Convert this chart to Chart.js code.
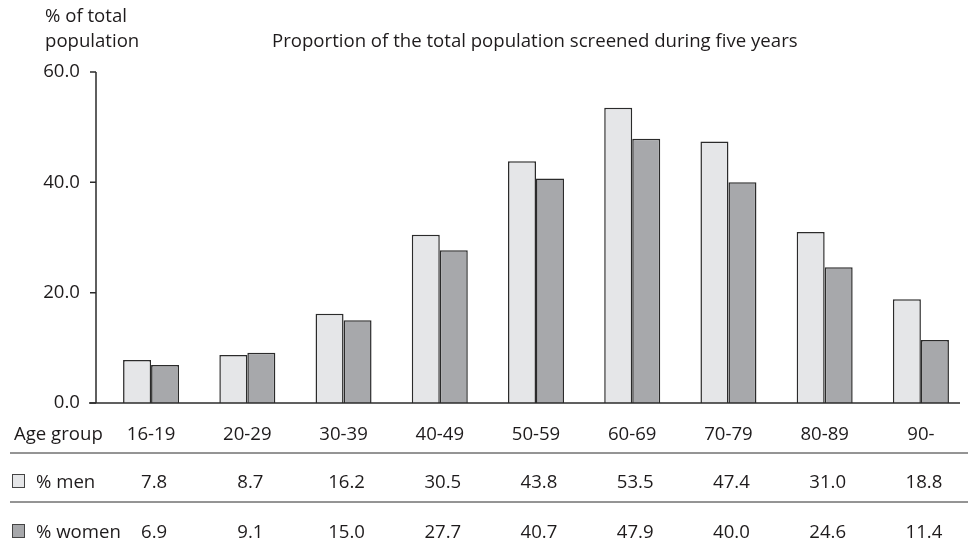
<!DOCTYPE html>
<html>
<head>
<meta charset="utf-8">
<script src="https://cdn.jsdelivr.net/npm/chart.js@4.4.1/dist/chart.umd.min.js"></script>
<style>
  html, body { margin: 0; padding: 0; background: #ffffff; overflow: hidden; }
  #wrap { position: relative; width: 969px; height: 546px; }
</style>
</head>
<body>
<div id="wrap"><canvas id="c" width="969" height="546"></canvas></div>
<script>
const categories = ['16-19', '20-29', '30-39', '40-49', '50-59', '60-69', '70-79', '80-89', '90-'];
const menValues = [7.8, 8.7, 16.2, 30.5, 43.8, 53.5, 47.4, 31.0, 18.8];
const womenValues = [6.9, 9.1, 15.0, 27.7, 40.7, 47.9, 40.0, 24.6, 11.4];
const yTicks = [0, 20, 40, 60];
const seriesNames = ['% men', '% women'];
const rowHeader = 'Age group';
const yTitleLines = ['% of total', 'population'];
const chartTitle = 'Proportion of the total population screened during five years';

const FONT = '"Open Sans", "Noto Sans", sans-serif';
const FS = 18.6;
const TEXT = '#1e1b1c';
const MEN_FILL = '#e5e6e8';
const WOMEN_FILL = '#a7a8ab';
const LINE = '#2b2b2b';

const tablePlugin = {
  id: 'tablePlugin',
  afterDraw(chart) {
    const ctx = chart.ctx;
    const xs = chart.scales.x;
    const ys = chart.scales.y;
    const area = chart.chartArea;
    ctx.save();
    // axes
    const axisX = area.left - 7;
    ctx.strokeStyle = LINE;
    ctx.lineWidth = 1.5;
    ctx.beginPath();
    ctx.moveTo(axisX, ys.getPixelForValue(yTicks[yTicks.length - 1]));
    ctx.lineTo(axisX, ys.getPixelForValue(0));
    yTicks.forEach(t => {
      const py = ys.getPixelForValue(t);
      ctx.moveTo(axisX - 6, py);
      ctx.lineTo(axisX, py);
    });
    ctx.stroke();
    ctx.beginPath();
    const y0 = ys.getPixelForValue(0);
    ctx.moveTo(axisX - 7, y0);
    ctx.lineTo(area.right - 9, y0);
    ctx.stroke();

    // titles
    ctx.fillStyle = TEXT;
    ctx.font = FS + 'px ' + FONT;
    ctx.textBaseline = 'middle';
    ctx.textAlign = 'left';
    ctx.fillText(yTitleLines[0], 45, 17);
    ctx.fillText(yTitleLines[1], 45, 42);
    ctx.fillText(chartTitle, 272, 42);

    // table
    ctx.fillText(rowHeader, 14, 435);
    ctx.lineWidth = 1;
    ctx.beginPath();
    ctx.moveTo(10, 453); ctx.lineTo(968, 453);
    ctx.moveTo(10, 502); ctx.lineTo(968, 502);
    ctx.stroke();

    const rows = [
      { name: seriesNames[0], vals: menValues, fill: MEN_FILL, y: 483 },
      { name: seriesNames[1], vals: womenValues, fill: WOMEN_FILL, y: 533 }
    ];
    rows.forEach(r => {
      ctx.fillStyle = r.fill;
      ctx.strokeStyle = '#444';
      ctx.lineWidth = 1;
      ctx.fillRect(12.5, r.y - 8.5, 12, 13);
      ctx.strokeRect(12.5, r.y - 8.5, 12, 13);
      ctx.fillStyle = TEXT;
      ctx.textAlign = 'left';
      ctx.fillText(r.name, 36, r.y);
      ctx.textAlign = 'center';
      r.vals.forEach((v, i) => {
        ctx.fillText(v.toFixed(1), xs.getPixelForValue(i) + 3, r.y);
      });
    });
    ctx.restore();
  }
};

new Chart(document.getElementById('c'), {
  type: 'bar',
  data: {
    labels: categories,
    datasets: [
      { label: seriesNames[0], data: menValues, backgroundColor: MEN_FILL, borderColor: LINE, borderWidth: 1.5, barPercentage: 1.0, categoryPercentage: 0.582 },
      { label: seriesNames[1], data: womenValues, backgroundColor: WOMEN_FILL, borderColor: LINE, borderWidth: 1.5, barPercentage: 1.0, categoryPercentage: 0.582 }
    ]
  },
  options: {
    responsive: false,
    animation: false,
    events: [],
    layout: { padding: { top: 72, right: 0, bottom: 0, left: 0 } },
    plugins: { legend: { display: false }, title: { display: false }, tooltip: { enabled: false } },
    scales: {
      x: {
        offset: true,
        grid: { display: false, drawTicks: false },
        border: { display: false },
        ticks: { color: TEXT, font: { family: FONT, size: FS }, padding: 21, maxRotation: 0, autoSkip: false },
        afterFit(scale) { scale.height = 143; }
      },
      y: {
        min: 0, max: 60,
        afterBuildTicks(scale) { scale.ticks = yTicks.map(v => ({ value: v })); },
        grid: { display: false, drawTicks: false },
        border: { display: false },
        ticks: { color: TEXT, font: { family: FONT, size: FS }, padding: 23, callback: v => Number(v).toFixed(1) },
        afterFit(scale) { scale.width = 103; }
      }
    }
  },
  plugins: [tablePlugin]
});
</script>
</body>
</html>
